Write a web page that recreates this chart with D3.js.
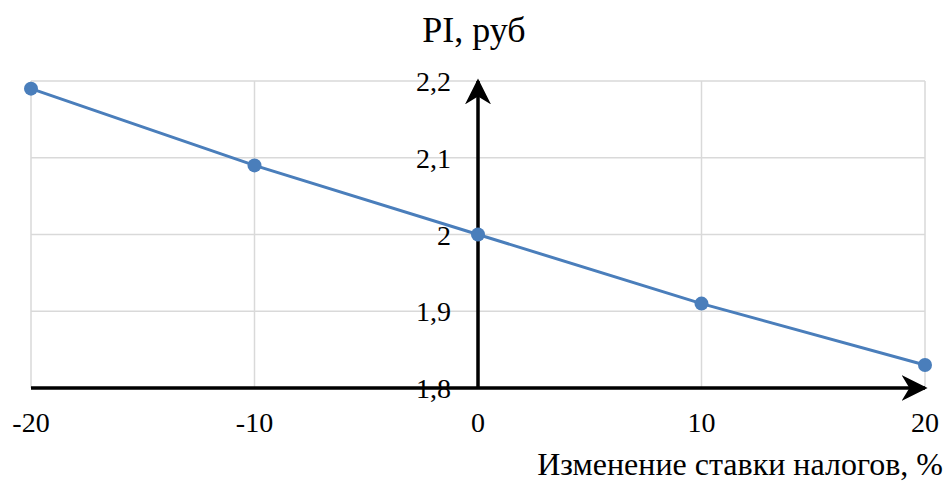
<!DOCTYPE html>
<html>
<head>
<meta charset="utf-8">
<script src="https://cdn.jsdelivr.net/npm/d3@7"></script>
<style>
  body { margin: 0; background: #fff; }
  text { font-family: "Liberation Serif", "Times New Roman", serif; fill: #000; }
</style>
</head>
<body>
<svg id="chart" width="946" height="481"></svg>
<script>
const taxChange = [-20, -10, 0, 10, 20];
const piValues = [2.19, 2.09, 2.0, 1.91, 1.83];
const yTicks = [1.8, 1.9, 2.0, 2.1, 2.2];
const xTicks = [-20, -10, 0, 10, 20];

const svg = d3.select('#chart');
const x = d3.scaleLinear().domain([-20, 20]).range([31, 925]);
const y = d3.scaleLinear().domain([1.8, 2.2]).range([388, 81]);
const fmt = (d) => d3.format('')(+d.toFixed(1)).replace('.', ',');

// grid
svg.append('g').selectAll('line.h')
    .data(yTicks)
    .enter().append('line')
    .attr('x1', x(-20)).attr('x2', x(20))
    .attr('y1', (d) => y(d)).attr('y2', (d) => y(d))
    .style('stroke', '#d9d9d9').style('stroke-width', 1.5);
svg.append('g').selectAll('line.v')
    .data(xTicks)
    .enter().append('line')
    .attr('x1', (d) => x(d)).attr('x2', (d) => x(d))
    .attr('y1', y(2.2)).attr('y2', y(1.8))
    .style('stroke', '#d9d9d9').style('stroke-width', 1.5);

// axes with arrows
const defs = svg.append('defs');
defs.append('marker')
    .attr('id', 'arrow')
    .attr('viewBox', '0 0 10 10')
    .attr('refX', 9).attr('refY', 5)
    .attr('markerWidth', 26).attr('markerHeight', 26)
    .attr('markerUnits', 'userSpaceOnUse')
    .attr('orient', 'auto')
    .append('path')
    .attr('d', 'M0,0 L10,5 L0,10 L3,5 Z')
    .style('fill', '#000');

svg.append('line')
    .attr('x1', x(-20)).attr('x2', x(20))
    .attr('y1', y(1.8)).attr('y2', y(1.8))
    .style('stroke', '#000').style('stroke-width', 3.5)
    .attr('marker-end', 'url(#arrow)');
svg.append('line')
    .attr('x1', x(0)).attr('x2', x(0))
    .attr('y1', y(1.8)).attr('y2', y(2.2))
    .style('stroke', '#000').style('stroke-width', 3.5)
    .attr('marker-end', 'url(#arrow)');

// tick labels
svg.append('g').selectAll('text')
    .data(yTicks)
    .enter().append('text')
    .attr('x', 451)
    .attr('y', (d) => y(d) + 10)
    .attr('text-anchor', 'end')
    .style('font-size', '28px')
    .text(fmt);
svg.append('g').selectAll('text')
    .data(xTicks)
    .enter().append('text')
    .attr('x', (d) => x(d))
    .attr('y', 432)
    .attr('text-anchor', 'middle')
    .style('font-size', '28px')
    .text((d) => d);

// titles
svg.append('text')
    .attr('x', 474).attr('y', 42)
    .attr('text-anchor', 'middle')
    .style('font-size', '36px')
    .text('PI, руб');
svg.append('text')
    .attr('x', 943).attr('y', 475)
    .attr('text-anchor', 'end')
    .style('font-size', '32px')
    .text('Изменение ставки налогов, %');

// series
const pts = taxChange.map((d, i) => ({ x: d, y: piValues[i] }));
svg.append('path')
    .datum(pts)
    .attr('d', d3.line().x((d) => x(d.x)).y((d) => y(d.y)))
    .style('fill', 'none')
    .style('stroke', '#4a7ebb')
    .style('stroke-width', 3);
svg.append('g').selectAll('circle')
    .data(pts)
    .enter().append('circle')
    .attr('cx', (d) => x(d.x))
    .attr('cy', (d) => y(d.y))
    .attr('r', 7)
    .style('fill', '#4a7ebb');
</script>
</body>
</html>
